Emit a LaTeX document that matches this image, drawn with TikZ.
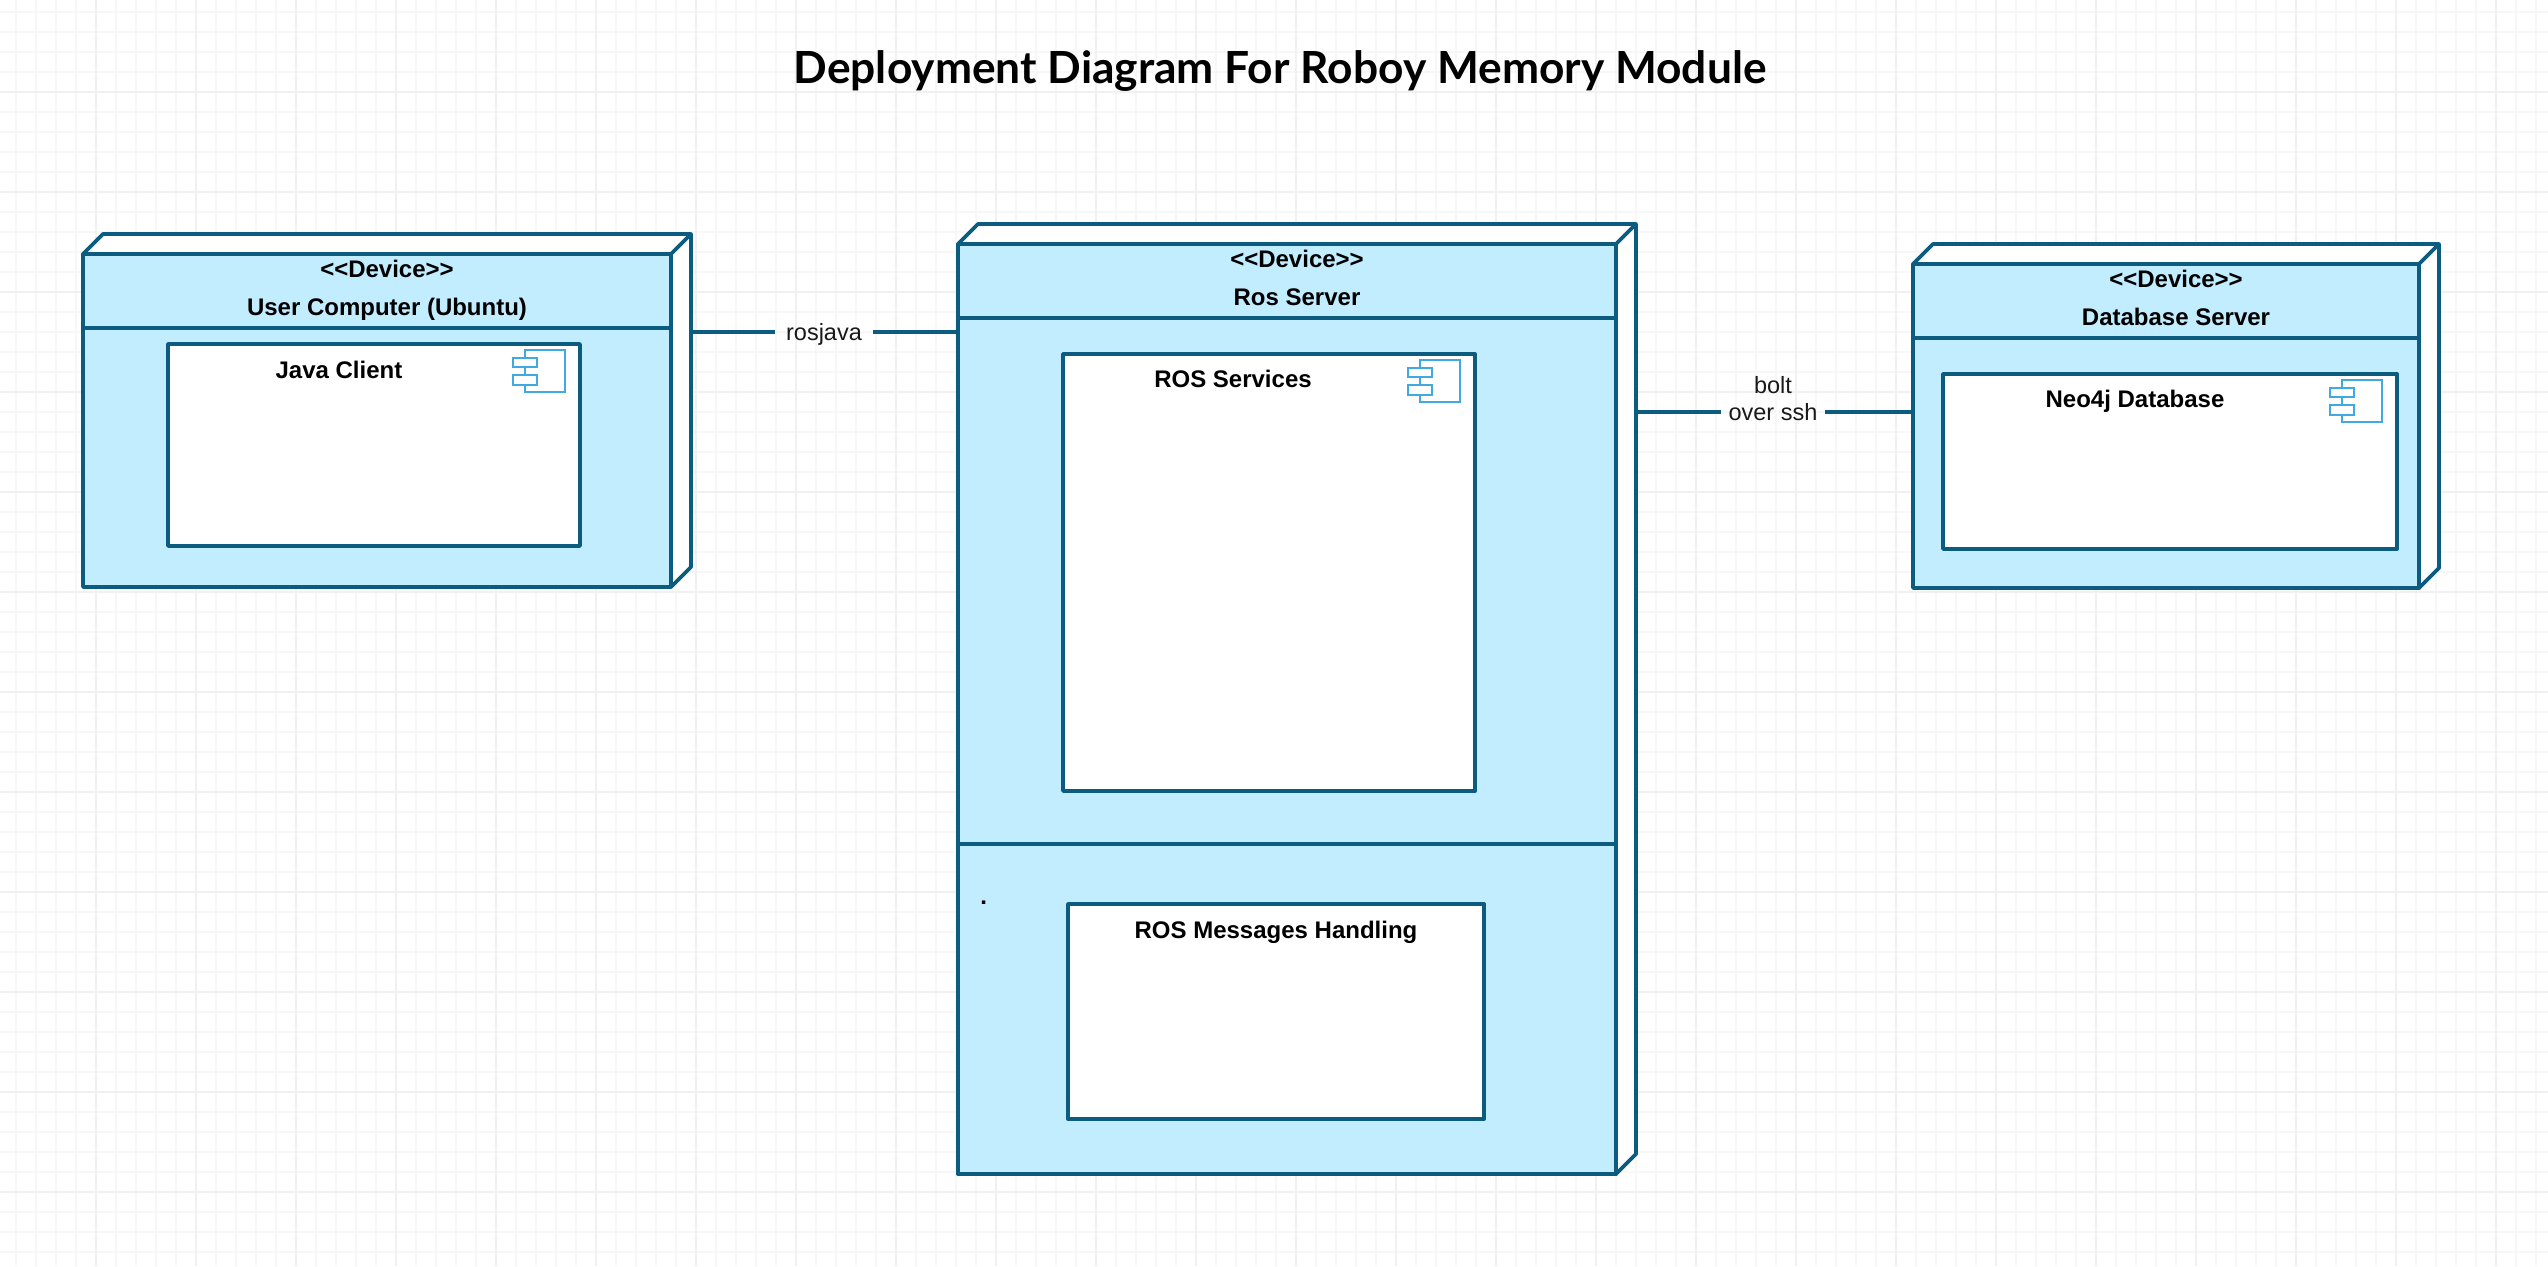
\documentclass[tikz,border=0pt]{standalone}
\usepackage{fontspec}
\setmainfont{Liberation Sans}
\newfontfamily\titlefont{Lato}
\usetikzlibrary{
  calc
}
\definecolor{dpLine}{HTML}{0B5C7F}
\definecolor{dpFill}{HTML}{C2EDFF}
\definecolor{dpIcon}{HTML}{3FA9E0}
\definecolor{dpGrid}{HTML}{F7F7F7}
\definecolor{dpGridMajor}{HTML}{F1F1F1}
\tikzset{
  device/.style={
    draw=dpLine, fill=dpFill, line width=3.8pt, anchor=north west,
    outer sep=0pt, inner sep=0pt, line join=round
  },
  component/.style={device, fill=white},
  edgeline/.style={draw=dpLine, line width=3.8pt, line cap=round, line join=round},
  linkline/.style={draw=dpLine, line width=3.8pt},
  iconpart/.style={draw=dpIcon, line width=2.4pt, fill=white},
  boldlabel/.style={
    font=\fontsize{24}{28}\selectfont\bfseries, text height=17pt, text depth=0pt,
    inner sep=0pt, text=black
  },
  linklabel/.style={
    font=\fontsize{23.5}{27.5}\selectfont, align=center, text=black!90,
    inner xsep=7pt, inner ysep=0pt
  },
  titlelabel/.style={font=\fontsize{44.3}{52}\selectfont\titlefont\bfseries, text=black, inner sep=0pt}
}
% side and top faces of a device
\newcommand{\devicefaces}[1]{
  \draw[edgeline, fill=white] (#1.north west) -- ++(20,-20) -- ($(#1.north east)+(20,-20)$) -- ($(#1.south east)+(20,-20)$) -- (#1.south east) -- (#1.north east) -- cycle;
  \draw[edgeline] (#1.north east) -- ++(20,-20);
}
\newcommand{\componenticon}[1]{
  \draw[iconpart] ($(#1.north east)+(-55,6)$) rectangle ($(#1.north east)+(-15,48)$);
  \draw[iconpart] ($(#1.north east)+(-67,14)$) rectangle ($(#1.north east)+(-43,23)$);
  \draw[iconpart] ($(#1.north east)+(-67,31)$) rectangle ($(#1.north east)+(-43,41)$);
}
\begin{document}
\begin{tikzpicture}[x=1pt, y=-1pt]
  \useasboundingbox (0,0) rectangle (2548,1266);
  \fill[white] (0,0) rectangle (2548,1266);
  % grid
  \foreach \x in {16,36,...,2536} \draw[dpGrid, line width=1.5pt] (\x,0) -- (\x,1266);
  \foreach \y in {12,32,...,1252} \draw[dpGrid, line width=1.5pt] (0,\y) -- (2548,\y);
  \foreach \x in {96,196,...,2496} \draw[dpGridMajor, line width=1.7pt] (\x,0) -- (\x,1266);
  \foreach \y in {92,192,...,1192} \draw[dpGridMajor, line width=1.7pt] (0,\y) -- (2548,\y);

  \node[titlelabel] (title) at (1280,71) {Deployment Diagram For Roboy Memory Module};

  % user computer
  \node[device, minimum width=588pt, minimum height=333pt] (uc) at (83,254) {};
  \devicefaces{uc}
  \draw[edgeline] ($(uc.north west)+(0,74)$) -- ($(uc.north east)+(0,74)$);
  \node[boldlabel] (ucstereo) at ($(uc.north)+(10,15)$) {<{}<Device>{}>};
  \node[boldlabel] (ucname) at ($(uc.north)+(10,53)$) {User Computer (Ubuntu)};
  \node[component, minimum width=412pt, minimum height=202pt] (jc) at (168,344) {};
  \node[boldlabel] (jclabel) at ($(jc.north)+(-35,26)$) {Java Client};
  \componenticon{jc}

  % ros server
  \node[device, minimum width=658pt, minimum height=930pt] (ros) at (958,244) {};
  \devicefaces{ros}
  \draw[edgeline] ($(ros.north west)+(0,74)$) -- ($(ros.north east)+(0,74)$);
  \draw[edgeline] ($(ros.north west)+(0,600)$) -- ($(ros.north east)+(0,600)$);
  \node[boldlabel] (rosstereo) at ($(ros.north)+(10,15)$) {<{}<Device>{}>};
  \node[boldlabel] (rosname) at ($(ros.north)+(10,53)$) {Ros Server};
  \node[component, minimum width=412pt, minimum height=437pt] (rs) at (1063,354) {};
  \node[boldlabel] (rslabel) at ($(rs.north)+(-36,25)$) {ROS Services};
  \componenticon{rs}
  \node[component, minimum width=416pt, minimum height=215pt] (rm) at (1068,904) {};
  \node[boldlabel] (rmlabel) at ($(rm.north)+(0,26)$) {ROS Messages Handling};
  \node[boldlabel, text height=0pt, anchor=base] (rosdot) at (983.6,904) {.};

  % database server
  \node[device, minimum width=506pt, minimum height=324pt] (db) at (1913,264) {};
  \devicefaces{db}
  \draw[edgeline] ($(db.north west)+(0,74)$) -- ($(db.north east)+(0,74)$);
  \node[boldlabel] (dbstereo) at ($(db.north)+(10,15)$) {<{}<Device>{}>};
  \node[boldlabel] (dbname) at ($(db.north)+(10,53)$) {Database Server};
  \node[component, minimum width=454pt, minimum height=175pt] (neo) at (1943,374) {};
  \node[boldlabel] (neolabel) at ($(neo.north)+(-35,25)$) {Neo4j Database};
  \componenticon{neo}

  % links
  \coordinate (ucport) at ($(uc.north east)+(20,78)$);
  \coordinate (rosport) at ($(ros.north east)+(20,168)$);
  \node[linklabel, inner xsep=11pt] (rosjava) at (824,334) {rosjava};
  \node[linklabel] (bolt) at (1773,398.5) {bolt\\over ssh};
  \draw[linkline] (ucport) -- (ucport -| rosjava.west);
  \draw[linkline] (ucport -| rosjava.east) -- (ucport -| ros.west);
  \draw[linkline] (rosport) -- (rosport -| bolt.west);
  \draw[linkline] (rosport -| bolt.east) -- (rosport -| db.west);
\end{tikzpicture}
\end{document}
